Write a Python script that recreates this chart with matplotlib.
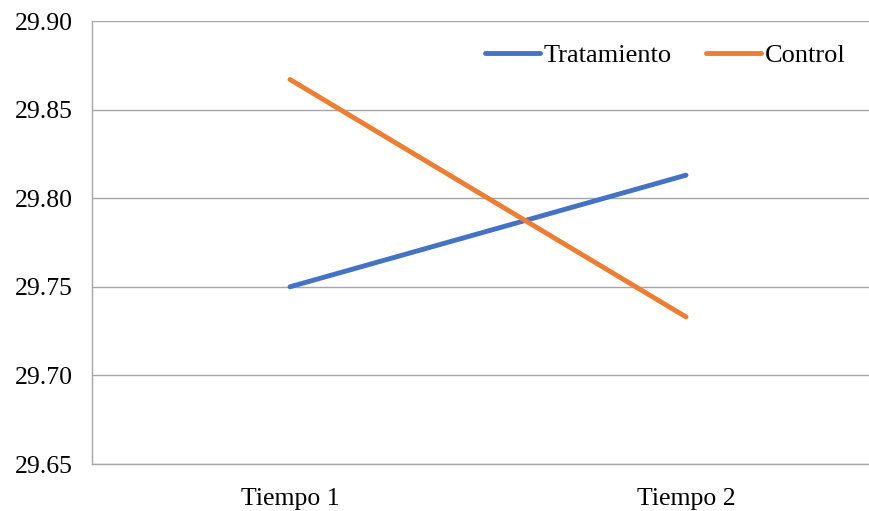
import matplotlib.pyplot as plt

# data
categories = ["Tiempo 1", "Tiempo 2"]
tratamiento = [29.750, 29.813]
control = [29.867, 29.733]
yticks = [29.65, 29.70, 29.75, 29.80, 29.85, 29.90]

plt.rcParams['font.family'] = ['Liberation Serif', 'DejaVu Serif']

fig = plt.figure(figsize=(8.7, 5.11), dpi=100)
ax = fig.add_axes([92 / 870, 1 - 464 / 511, 792 / 870, 443 / 511])

x = list(range(len(categories)))
ax.plot(x, tratamiento, color='#4472C4', lw=3.5, label='Tratamiento', solid_capstyle='round')
ax.plot(x, control, color='#ED7D31', lw=3.5, label='Control', solid_capstyle='round')

ax.set_xlim(-0.5, 1.5)
ax.set_ylim(29.65, 29.90)
ax.set_yticks(yticks)
ax.set_yticklabels([f"{v:.2f}" for v in yticks])
ax.set_xticks(x)
ax.set_xticklabels(categories)
ax.tick_params(length=0, labelsize=18.5, colors='black')
ax.tick_params(axis='x', pad=17)
ax.tick_params(axis='y', pad=14)

ax.grid(axis='y', color='#a6a6a6', lw=1)
ax.set_axisbelow(True)
for s in ['top', 'right']:
    ax.spines[s].set_visible(False)
for s in ['left', 'bottom']:
    ax.spines[s].set_color('#a6a6a6')
    ax.spines[s].set_linewidth(1)

ax.legend(loc='center left', bbox_to_anchor=(0.496, 0.923), ncol=2, frameon=False,
          borderpad=0, borderaxespad=0,
          fontsize=19, handlelength=2.1, handletextpad=0.12, columnspacing=1.3)

fig.savefig('out.png', dpi=100)
